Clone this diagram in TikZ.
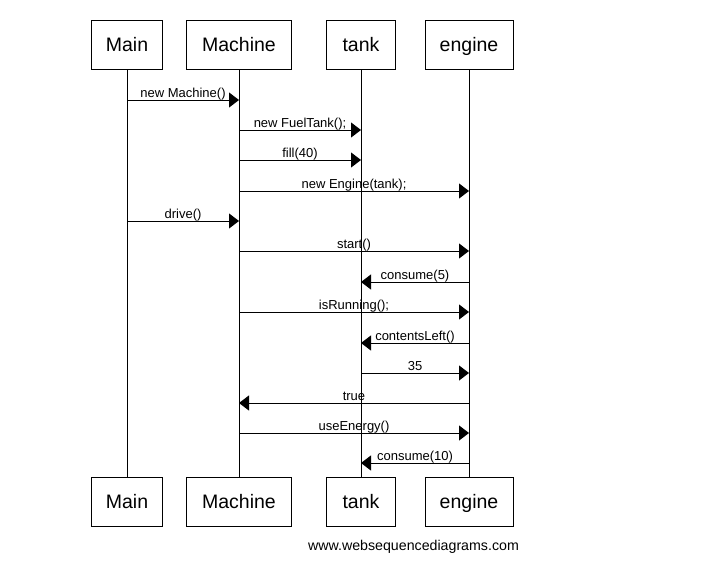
\documentclass[tikz,border=0pt]{standalone}
\usepackage{fontspec}
\setmainfont{Liberation Sans}
\usetikzlibrary{arrows.meta}
\begin{document}
\begin{tikzpicture}[x=1pt,y=-1pt,line width=1pt,
  actor/.style={draw,minimum height=49pt,inner sep=0pt,text height=14pt,text depth=0pt,
    font=\fontsize{19.5}{22}\selectfont},
  lifeline/.style={draw},
  msg/.style={-{Triangle[length=10pt,width=15pt]}},
  lbl/.style={anchor=base,yshift=2.8pt,inner sep=0pt,font=\fontsize{13}{15}\selectfont}]
\useasboundingbox[fill=white] (0,0) rectangle (708,560);

% participants, top and bottom
\foreach \id/\x/\w/\t in {main/127/71/Main, mach/239/105/Machine, tank/361/69/tank, eng/469/88/engine}{
  \node[actor,minimum width=\w pt] (\id T) at (\x,44.5) {\t};
  \node[actor,minimum width=\w pt] (\id B) at (\x,501.5) {\t};
  \draw[lifeline] (\id T.south) -- (\id B.north);
}

% message rows
\foreach \n/\y in {1/100,2/130,3/160,4/191,5/221,6/251,7/282,8/312,9/343,10/373,11/403,12/433,13/463}{
  \coordinate (r\n) at (0,\y);
}

% messages
\foreach \f/\t/\r/\l in {
  mainT/machT/1/{new Machine()},
  machT/tankT/2/{new FuelTank();},
  machT/tankT/3/{fill(40)},
  machT/engT/4/{new Engine(tank);},
  mainT/machT/5/{drive()},
  machT/engT/6/{start()},
  engT/tankT/7/{consume(5)},
  machT/engT/8/{isRunning();},
  engT/tankT/9/{contentsLeft()},
  tankT/engT/10/{35},
  engT/machT/11/{true},
  machT/engT/12/{useEnergy()},
  engT/tankT/13/{consume(10)}}{
  \draw[msg] (\f.south |- r\r) -- node[lbl]{\l} (\t.south |- r\r);
}

\node[anchor=base,inner sep=0pt,font=\fontsize{14.2}{17}\selectfont] (wm) at (413.5,550) {www.websequencediagrams.com};
\end{tikzpicture}
\end{document}
